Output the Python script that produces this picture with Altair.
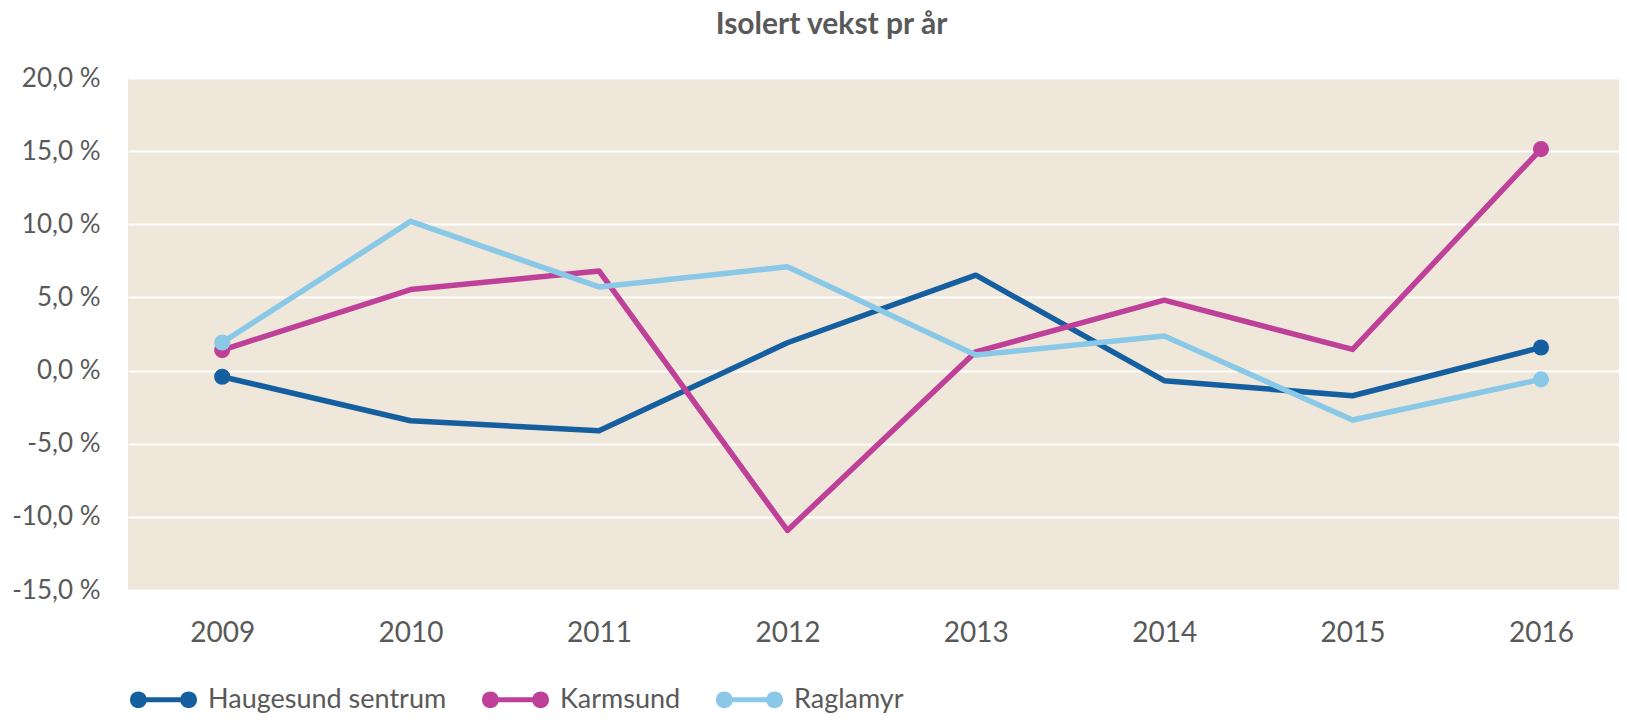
import altair as alt
import pandas as pd

years = [2009, 2010, 2011, 2012, 2013, 2014, 2015, 2016]
series = ["Haugesund sentrum", "Karmsund", "Raglamyr"]
haugesund = [-0.42, -3.43, -4.11, 1.90, 6.52, -0.69, -1.72, 1.58]
karmsund = [1.40, 5.54, 6.81, -10.93, 1.28, 4.81, 1.45, 15.14]
raglamyr = [1.92, 10.20, 5.72, 7.09, 1.06, 2.36, -3.38, -0.60]
colors = ["#155FA0", "#BF4099", "#89C8E6"]
y_ticks = [-15, -10, -5, 0, 5, 10, 15, 20]

rows = []
for i, (name, vals) in enumerate(zip(series, [haugesund, karmsund, raglamyr])):
    for y, v in zip(years, vals):
        rows.append({"year": y, "value": v, "serie": name, "ord": i})
df = pd.DataFrame(rows)

FONT = "Lato"
TXT = "#595959"

legend_path = (
    "M-1,0 C-1,-0.333 -0.5,-0.333 -0.5,0 C-0.5,0.333 -1,0.333 -1,0 Z "
    "M0.5,0 C0.5,-0.333 1,-0.333 1,0 C1,0.333 0.5,0.333 0.5,0 Z "
    "M-0.75,-0.075 L0.75,-0.075 L0.75,0.075 L-0.75,0.075 Z"
)

x = alt.X(
    "year:Q",
    scale=alt.Scale(domain=[2008.5, 2016.414], nice=False, zero=False),
    axis=alt.Axis(
        values=years, format="d", title=None, grid=False, domain=False,
        ticks=False, tickSize=0, labelFontSize=28, labelFont=FONT,
        labelColor=TXT, labelPadding=29, labelFlush=False,
    ),
)
y = alt.Y(
    "value:Q",
    scale=alt.Scale(domain=[-15, 20], nice=False, zero=False),
    axis=alt.Axis(
        values=y_ticks, title=None, domain=False, ticks=False, tickSize=0,
        grid=True, gridColor="#FFFFFF", gridWidth=2,
        labelFontSize=26, labelFont=FONT, labelColor=TXT, labelPadding=28,
        labelBaseline="middle",
        labelExpr="(datum.value < 0 ? '-' : '') + replace(format(abs(datum.value), '.1f'), '.', ',') + ' %'",
    ),
)
color_scale = alt.Scale(domain=series, range=colors)
legend = alt.Legend(
    title=None, orient="none", direction="horizontal", columns=3,
    legendX=2, legendY=588,
    symbolType=legend_path, symbolSize=4489, symbolStrokeWidth=0,
    labelFont=FONT, labelFontSize=27, labelColor=TXT, labelOffset=11,
    columnPadding=35, labelLimit=400, padding=0,
)

lines = alt.Chart(df).mark_line(strokeWidth=5.5, strokeJoin="round").encode(
    x=x, y=y,
    color=alt.Color("serie:N", scale=color_scale),
    order=alt.Order("year:Q"),
)

points = alt.Chart(df).transform_filter(
    "datum.year == 2009 || datum.year == 2016"
).mark_point(filled=True, size=260, opacity=1).encode(
    x=x, y=y,
    color=alt.Color("serie:N", scale=color_scale, legend=legend),
)

chart = alt.layer(lines, points).properties(
    width=1491,
    height=512,
    autosize=alt.AutoSizeParams(type="none"),
    padding={"left": 120, "top": 70, "right": 0, "bottom": 125},
    title=alt.TitleParams(
        "Isolert vekst pr år", font=FONT, fontSize=30, fontWeight="bold",
        color=TXT, anchor="middle", dx=-42, offset=25,
    ),
).configure_view(fill="#EFE7D9", strokeWidth=0)

chart.save("out.html", embed_options={"renderer": "svg", "actions": False})
